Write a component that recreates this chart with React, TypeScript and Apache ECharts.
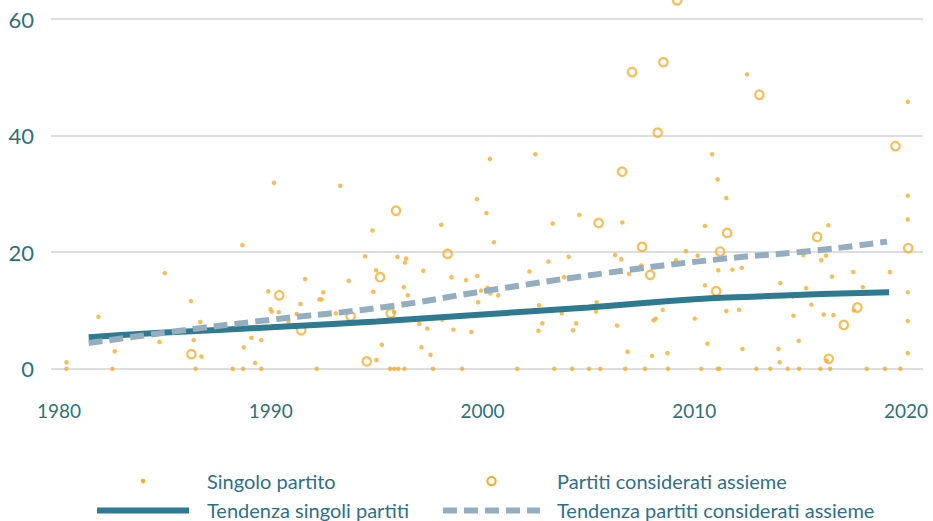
import React, { useEffect, useRef } from "react";
import * as echarts from "echarts";

const X_TICKS = [1980, 1990, 2000, 2010, 2020];
const Y_TICKS = [0, 20, 40, 60];

const singoloPartito: [number, number][] = [
  [1980.35, 1.1], [1980.35, 0], [1981.86, 8.9], [1982.52, 0], [1982.63, 3.0], [1984.74, 4.6], [1984.99, 16.4],
  [1986.23, 11.6], [1986.36, 4.9], [1986.45, 0], [1986.67, 8.0], [1986.72, 2.1], [1988.2, 0], [1988.66, 21.2],
  [1988.69, 0], [1988.72, 3.7], [1989.08, 5.3], [1989.26, 1.0], [1989.55, 4.9], [1989.55, 0], [1989.88, 13.3],
  [1989.99, 10.2], [1990.04, 9.8], [1990.15, 31.9], [1990.37, 9.7], [1990.83, 8.1], [1991.22, 9.4], [1991.4, 11.1],
  [1991.62, 15.4], [1992.17, 0], [1992.29, 11.9], [1992.4, 11.9], [1992.48, 13.1], [1993.07, 9.5], [1993.28, 31.4],
  [1993.68, 15.1], [1994.45, 19.3], [1994.8, 23.7], [1994.84, 13.2], [1994.97, 16.9], [1994.99, 1.5], [1995.24, 4.1],
  [1995.63, 0], [1995.82, 9.7], [1995.83, 0], [1995.98, 19.2], [1996.02, 0], [1996.28, 14.0], [1996.31, 0],
  [1996.33, 18.2], [1996.39, 18.9], [1996.47, 12.6], [1997.01, 7.7], [1997.11, 3.7], [1997.2, 16.8], [1997.39, 6.9],
  [1997.54, 2.4], [1997.66, 0], [1998.05, 24.7], [1998.1, 8.4], [1998.53, 15.7], [1998.62, 6.7], [1999.03, 0],
  [1999.22, 15.2], [1999.47, 6.3], [1999.73, 29.1], [1999.75, 15.9], [1999.79, 11.4], [1999.93, 13.4], [2000.18, 26.7],
  [2000.24, 13.9], [2000.35, 36.0], [2000.37, 12.9], [2000.54, 21.7], [2000.74, 12.6],
  [2001.64, 0], [2002.21, 16.7], [2002.49, 36.8], [2002.64, 6.5], [2002.67, 10.9], [2002.82, 7.8], [2003.11, 18.4],
  [2003.31, 24.9], [2003.39, 0], [2003.74, 9.5], [2003.85, 15.7], [2004.07, 19.2], [2004.23, 0], [2004.27, 6.6],
  [2004.42, 7.8], [2004.57, 26.4], [2005.03, 0], [2005.36, 9.8], [2005.39, 11.4], [2005.56, 0], [2006.26, 19.5],
  [2006.35, 7.4], [2006.55, 18.8], [2006.6, 25.1], [2006.74, 0], [2006.85, 2.9], [2006.92, 16.3], [2007.5, 17.7],
  [2007.67, 0], [2008.0, 2.2], [2008.07, 8.3], [2008.18, 8.6], [2008.51, 10.1], [2008.73, 2.7], [2008.76, 0],
  [2009.14, 18.6], [2009.6, 20.2], [2010.02, 8.6], [2010.16, 19.4], [2010.33, 0], [2010.5, 24.5], [2010.5, 14.3],
  [2010.62, 4.3], [2010.84, 36.8], [2011.1, 32.5], [2011.11, 0], [2011.13, 16.9], [2011.19, 0], [2011.51, 29.3],
  [2011.51, 9.9], [2011.8, 17.0], [2012.11, 10.1], [2012.24, 17.3], [2012.27, 3.4], [2012.49, 50.5], [2012.93, 0],
  [2013.59, 0], [2013.97, 3.4], [2014.03, 1.1], [2014.06, 14.7], [2014.41, 0], [2014.66, 12.4], [2014.68, 9.1],
  [2014.93, 4.8], [2014.95, 0], [2015.15, 19.5], [2015.28, 13.8], [2015.53, 11.0], [2015.95, 0], [2015.99, 18.6],
  [2016.11, 9.3], [2016.25, 1.4], [2016.22, 19.4], [2016.33, 24.6], [2016.41, 0], [2016.5, 15.8], [2016.57, 9.2],
  [2017.5, 16.6], [2017.53, 10.0], [2017.96, 14.0], [2018.14, 0], [2019.01, 0], [2019.24, 16.6], [2019.73, 0],
  [2020.08, 45.8], [2020.08, 29.7], [2020.08, 25.6], [2020.08, 13.1], [2020.08, 8.2], [2020.08, 2.7],
];

const partitiAssieme: [number, number][] = [
  [1986.25, 2.5], [1990.4, 12.6], [1991.44, 6.6], [1993.77, 9.0], [1994.53, 1.25], [1995.16, 15.7], [1995.66, 9.5],
  [1995.91, 27.1], [1998.35, 19.7], [2005.48, 25.0], [2006.59, 33.8], [2007.06, 50.9], [2007.53, 20.9], [2007.91, 16.1],
  [2008.27, 40.5], [2008.54, 52.6], [2009.19, 63.2], [2011.03, 13.3], [2011.22, 20.1], [2011.55, 23.3], [2013.07, 47.0],
  [2015.8, 22.6], [2016.35, 1.7], [2017.06, 7.5], [2017.7, 10.5], [2019.5, 38.2], [2020.1, 20.7],
];

const tendenzaSingoli: [number, number][] = [
  [1981.4, 5.4], [1985, 6.2], [1990, 7.1], [1995, 8.1], [2000, 9.3], [2005, 10.5], [2010, 11.9],
  [2013, 12.4], [2016, 12.8], [2019.2, 13.1],
];

const tendenzaAssieme: [number, number][] = [
  [1981.4, 4.4], [1985.9, 6.6], [1990, 8.4], [1995.4, 10.6], [2000.4, 13.5], [2005.8, 16.4], [2011.2, 18.8],
  [2015.5, 20.2], [2019.1, 21.8],
];

const ORANGE = "#F8AC2C";
const SOLID = "#2E7A90";
const DASH = "#94AEC0";
const AXIS_TEXT = "#2D7278";
const LEGEND_TEXT = "#2E7088";
const FONT = "Lato, 'Noto Sans', sans-serif";

export default function App() {
  const ref = useRef<HTMLDivElement>(null);
  useEffect(() => {
    if (!ref.current) return;
    const chart = echarts.init(ref.current, undefined, { renderer: "svg" });
    const legendY1 = 481;
    const legendY2 = 509.5;
    const legendText = (x: number, y: number, text: string) => ({
      type: "text",
      x,
      y,
      style: { text, fill: LEGEND_TEXT, fontSize: 20, fontFamily: FONT, verticalAlign: "middle", align: "left" },
    });
    chart.setOption({
      animation: false,
      backgroundColor: "#ffffff",
      grid: { left: 51, right: 10, top: 19, bottom: 152.3 },
      xAxis: {
        type: "value",
        min: 1979.62,
        max: 2020.8,
        axisLine: { show: false },
        axisTick: { show: false },
        splitLine: { show: false },
        axisLabel: {
          customValues: X_TICKS,
          color: AXIS_TEXT,
          fontSize: 19,
          fontFamily: FONT,
          margin: 32,
          formatter: (v: number) => String(Math.round(v)),
        },
      },
      yAxis: {
        type: "value",
        min: Y_TICKS[0],
        max: Y_TICKS[Y_TICKS.length - 1],
        interval: 20,
        axisLine: { show: false },
        axisTick: { show: false },
        splitLine: { lineStyle: { color: "#dedede", width: 2 } },
        axisLabel: { color: AXIS_TEXT, fontSize: 22, fontFamily: FONT, margin: 17 },
      },
      series: [
        {
          name: "Singolo partito",
          type: "scatter",
          data: singoloPartito,
          symbol: "circle",
          symbolSize: 4.5,
          clip: false,
          itemStyle: { color: ORANGE },
        },
        {
          name: "Partiti considerati assieme",
          type: "scatter",
          data: partitiAssieme,
          symbol: "circle",
          symbolSize: 8.5,
          clip: false,
          itemStyle: { color: "rgba(255,255,255,0)", borderColor: ORANGE, borderWidth: 2.2 },
        },
        {
          name: "Tendenza singoli partiti",
          type: "line",
          data: tendenzaSingoli,
          smooth: true,
          showSymbol: false,
          lineStyle: { color: SOLID, width: 6 },
        },
        {
          name: "Tendenza partiti considerati assieme",
          type: "line",
          data: tendenzaAssieme,
          smooth: true,
          showSymbol: false,
          lineStyle: { color: DASH, width: 6, type: [14, 7] },
        },
      ],
      graphic: [
        { type: "circle", shape: { cx: 143, cy: legendY1, r: 2.3 }, style: { fill: ORANGE } },
        legendText(207, legendY1, "Singolo partito"),
        { type: "circle", shape: { cx: 491.5, cy: legendY1, r: 4.2 }, style: { fill: "none", stroke: ORANGE, lineWidth: 2 } },
        legendText(557, legendY1, "Partiti considerati assieme"),
        { type: "line", shape: { x1: 97, y1: legendY2 + 1, x2: 189, y2: legendY2 + 1 }, style: { stroke: SOLID, lineWidth: 6 } },
        legendText(207, legendY2, "Tendenza singoli partiti"),
        { type: "line", shape: { x1: 443, y1: legendY2 + 1, x2: 540, y2: legendY2 + 1 }, style: { stroke: DASH, lineWidth: 6, lineDash: [14, 7] } },
        legendText(557, legendY2, "Tendenza partiti considerati assieme"),
      ],
    });
    return () => chart.dispose();
  }, []);
  return (
    <div
      ref={ref}
      style={{ position: "absolute", left: 0, top: 0, width: 933, height: 521, background: "#fff" }}
    />
  );
}
